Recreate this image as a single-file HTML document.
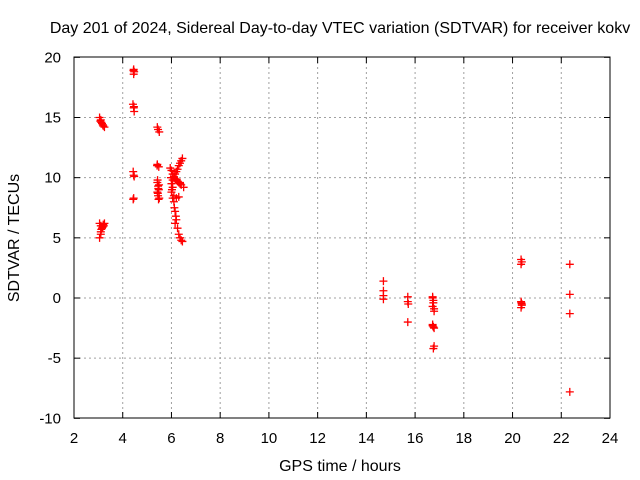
<!DOCTYPE html>
<html><head><meta charset="utf-8"><style>
body{margin:0;background:#fff}
svg{display:block;font-family:"Liberation Sans",sans-serif;}
</style></head><body>
<svg id="chart" width="640" height="480">
<text x="340" y="33" text-anchor="middle" font-size="16">Day 201 of 2024, Sidereal Day-to-day VTEC variation (SDTVAR) for receiver kokv</text>
<text x="340" y="471" text-anchor="middle" font-size="16">GPS time / hours</text>
<text transform="translate(19,238) rotate(-90)" text-anchor="middle" font-size="16">SDTVAR / TECUs</text>
<g id="grid"></g><g id="ticks"></g><g id="pts"></g>
<rect x="74" y="57" width="536" height="361" fill="none" stroke="#000"/>
</svg>
<script>
const xTicks=[2,4,6,8,10,12,14,16,18,20,22,24];
const yTicks=[-10,-5,0,5,10,15,20];
const xs=[3.05,3.1,3.12,3.15,3.2,3.25,3.08,3.18,3.05,3.1,3.15,3.2,3.25,3.1,3.05,3.1,3.18,3.12,3.22,
4.45,4.47,4.45,4.42,4.45,4.47,4.43,4.45,4.47,4.45,4.43,4.46,4.44,
5.42,5.45,5.5,5.42,5.48,5.42,5.45,5.48,5.42,5.45,5.5,5.43,5.47,5.46,5.44,5.49,5.41,
6.0,6.05,6.1,6.15,6.2,6.25,6.3,6.35,6.4,6.45,5.95,6.0,6.05,6.1,6.15,6.2,6.25,6.3,6.35,6.4,6.5,6.0,6.05,6.1,6.12,6.15,6.18,6.2,6.25,6.3,6.35,6.4,6.45,5.98,6.02,6.1,6.2,6.3,6.35,6.05,6.15,
14.7,14.7,14.7,14.7,15.7,15.7,15.72,15.7,16.72,16.75,16.72,16.78,16.72,16.78,16.72,16.78,16.75,16.72,16.78,16.75,16.75,
20.35,20.38,20.35,20.35,20.38,20.35,20.38,20.36,22.35,22.35,22.35,22.35];
const ys=[15.0,14.8,14.6,14.5,14.3,14.2,14.7,14.4,6.2,6.0,5.8,6.1,6.2,5.5,5.0,5.3,5.9,5.7,6.0,
19.0,18.8,18.6,16.1,15.8,15.5,10.5,10.2,10.1,8.3,8.2,15.9,18.9,
14.2,14.0,13.8,11.1,10.9,9.6,9.3,9.0,8.8,8.5,8.3,9.8,8.2,9.1,8.7,9.4,11.0,
9.5,9.8,10.0,10.3,10.5,10.7,11.0,11.2,11.4,11.6,10.8,10.6,10.3,10.1,9.9,9.8,9.7,9.6,9.5,9.4,9.2,8.8,8.3,8.0,7.5,7.2,6.8,6.5,5.8,5.3,5.0,4.8,4.7,10.0,9.0,8.5,8.3,8.4,9.6,9.2,6.2,
1.4,0.6,0.2,-0.1,0.1,-0.3,-0.5,-2.0,0.1,-0.2,-0.7,-1.1,-2.2,-2.5,-2.3,-4.0,-4.2,0.0,-0.9,-0.4,-2.4,
3.2,3.0,2.8,-0.3,-0.5,-0.8,-0.6,-0.4,2.8,0.3,-1.3,-7.8];
const X=v=>74+(v-2)*536/22, Y=v=>298-v*361/30;
const NS="http://www.w3.org/2000/svg";
const g=document.getElementById('grid'),t=document.getElementById('ticks'),p=document.getElementById('pts');
function mk(tag,a,par){const e=document.createElementNS(NS,tag);for(const k in a)e.setAttribute(k,a[k]);par.appendChild(e);return e;}
xTicks.forEach(v=>{const x=X(v);
 if(v>2&&v<24){const l=mk('line',{x1:x,x2:x,y1:57,y2:418,stroke:'#a0a0a0','stroke-dasharray':'2,3'},g);
 
 }
 mk('line',{x1:x,x2:x,y1:418,y2:412,stroke:'#000'},t);mk('line',{x1:x,x2:x,y1:57,y2:63,stroke:'#000'},t);
 const s=mk('text',{x:x,y:443,'text-anchor':'middle','font-size':15},t);s.textContent=v;
 
 });
yTicks.forEach(v=>{const y=Y(v);
 if(v>-10&&v<20){const l=mk('line',{x1:74,x2:610,y1:y,y2:y,stroke:'#a0a0a0','stroke-dasharray':'2,3'},g);
 
 }
 mk('line',{x1:74,x2:80,y1:y,y2:y,stroke:'#000'},t);mk('line',{x1:610,x2:604,y1:y,y2:y,stroke:'#000'},t);
 const s=mk('text',{x:61,y:y+5,'text-anchor':'end','font-size':15},t);s.textContent=v;
 
 });
xs.forEach((v,i)=>{const x=X(v),y=Y(ys[i]);
 const e=mk('path',{d:`M${x-4},${y}h8M${x},${y-4}v8`,stroke:'#f00','stroke-width':1.3},p);
 
 });
</script>
</body></html>
